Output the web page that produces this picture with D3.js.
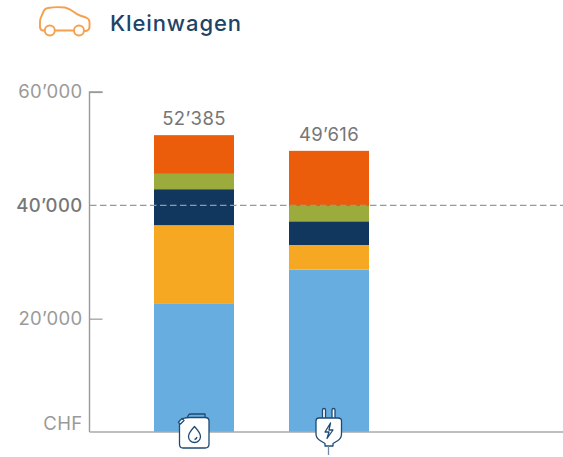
<!DOCTYPE html>
<html><head><meta charset="utf-8">
<script src="https://cdn.jsdelivr.net/npm/d3@7"></script>
<style>html,body{margin:0;padding:0;background:#fff}svg{display:block}text{font-family:Inter,"Noto Sans",sans-serif}</style>
</head><body><div id="c"></div>
<script>
const title = "Kleinwagen";
const categories = ["Benzin", "Elektro"];
const totalLabels = ["52’385", "49’616"];
const segmentNames = ["a", "b", "c", "d", "e"];
const benzinValues = [22600, 13900, 6350, 2700, 6835];
const elektroValues = [28650, 4350, 4180, 2700, 9736];
const colors = ["#68ADE0", "#F7A823", "#12375E", "#9BAB3C", "#EC5D0B"];
const tickValues = [0, 20000, 40000, 60000];
const tickLabels = ["CHF", "20’000", "40’000", "60’000"];

const W = 563, H = 457;
const svg = d3.select("#c").append("svg").attr("width", W).attr("height", H);
const y = d3.scaleLinear().domain([0, 60000]).range([432, 92]);
const x = d3.scaleBand().domain(categories).range([154, 369]).paddingInner(55 / 135).paddingOuter(0);
const seriesRows = [benzinValues, elektroValues];

// stacked bars
const rows = categories.map((c, i) => {
  const o = {cat: c};
  segmentNames.forEach((s, j) => o[s] = seriesRows[i][j]);
  return o;
});
const stack = d3.stack().keys(segmentNames)(rows);
svg.append("g").selectAll("g").data(stack).join("g")
  .attr("fill", (d, i) => colors[i])
  .selectAll("rect").data(d => d).join("rect")
  .attr("x", d => x(d.data.cat))
  .attr("width", x.bandwidth())
  .attr("y", d => y(d[1]))
  .attr("height", d => y(d[0]) - y(d[1]));

// totals
svg.append("g").selectAll("text").data(categories).join("text")
  .attr("x", c => x(c) + x.bandwidth() / 2)
  .attr("y", (c, i) => y(d3.sum(seriesRows[i])) - 10)
  .attr("text-anchor", "middle").attr("font-size", 18.5).attr("letter-spacing", 0.35).attr("fill", "#767676")
  .text((c, i) => totalLabels[i]);

// axis
const axis = d3.axisLeft(y).tickValues(tickValues).tickFormat((d, i) => tickLabels[i]).tickSize(-13).tickPadding(0);
const ga = svg.append("g").attr("transform", "translate(89.5,0)").call(axis);
ga.select(".domain").attr("stroke", "#999").attr("stroke-width", 1.4).attr("d", `M13,${y(60000)}H0V${y(0)}`);
ga.selectAll(".tick line").attr("stroke", "#999").attr("stroke-width", 1.2);
ga.selectAll(".tick").filter(d => d === 0 || d === 40000).select("line").remove();
ga.selectAll(".tick text")
  .attr("x", -7).attr("dy", d => d === 0 ? "-0.15em" : "0.32em")
  .attr("font-size", 18.5).attr("font-family", 'Inter,"Noto Sans",sans-serif')
  .attr("letter-spacing", 0.35)
  .attr("font-weight", d => d === 40000 ? 500 : 400)
  .attr("fill", d => d === 40000 ? "#777" : "#9a9a9a");

// baseline and reference line
svg.append("line").attr("x1", 89.5).attr("x2", 563).attr("y1", y(0)).attr("y2", y(0)).attr("stroke", "#aaa").attr("stroke-width", 1.4);
svg.append("line").attr("x1", 90).attr("x2", 563).attr("y1", y(40000)).attr("y2", y(40000))
  .attr("stroke", "#999").attr("stroke-width", 1.4).attr("stroke-dasharray", "6.5 3.5");

// title
svg.append("text").attr("x", 110).attr("y", 31).attr("font-size", 22).attr("letter-spacing", 0.9).attr("font-weight", 500).attr("fill", "#1D4468").text(title);

// car icon
const car = svg.append("g").attr("fill", "none").attr("stroke", "#F6A04D").attr("stroke-width", 1.9).attr("stroke-linejoin", "round");
car.append("path").attr("d", "M44.5,30.5 H42.5 Q40,29.5 40,27 V22 Q40,19 41.5,16 L44,10.5 Q45,8.5 48,8 Q56,6.5 65,7.5 Q69,8.5 74,12 Q77,14.5 80,15.5 L86,17.5 Q89.5,19 89.5,22 V27 Q89.5,30 86,31 H84.5 M74,30.5 H55");
car.append("circle").attr("cx", 49.8).attr("cy", 30.5).attr("r", 5);
car.append("circle").attr("cx", 79).attr("cy", 30.5).attr("r", 5);

// fuel can icon
const can = svg.append("g").attr("stroke", "#1F4A73").attr("stroke-width", 1.3).attr("stroke-linejoin", "round").attr("fill", "#fff");
can.append("path").attr("fill", "#68ADE0").attr("d", "M187,418 L188.5,415 Q189,414 191,414 H205 V418 Z");
can.append("path").attr("d", "M179.5,423 L183,418.5 Q186,417.5 190,417.5 H205 Q209,417.5 209,421 V444 Q209,448 205,448 H183 Q179.5,448 179.5,444 Z");
can.append("path").attr("d", "M179,423 L178.5,422 L182,418.5 L184,420.5 L180.5,424 Z");
can.append("path").attr("fill", "none").attr("d", "M194.5,426.5 Q200.5,433 200.5,436.5 A6,6 0 0 1 188.5,436.5 Q188.5,433 194.5,426.5 Z");
can.append("path").attr("fill", "none").attr("d", "M197,437 Q196.5,439 194.5,439.5");

// plug icon
const plug = svg.append("g").attr("stroke", "#1F4A73").attr("stroke-width", 1.3).attr("stroke-linejoin", "round").attr("fill", "#fff");
plug.append("path").attr("d", "M322.5,418 V410 Q322.5,408.5 324,408.5 Q325.5,408.5 325.5,410 V418 M332,418 V410 Q332,408.5 333.5,408.5 Q335,408.5 335,410 V418");
plug.append("path").attr("d", "M319,418 H338 Q341.5,418 341.5,421 V434 Q341.5,438 338,440.5 L333,443.5 V446 H325 V443.5 L320,440.5 Q316,438 316,434 V421 Q316,418 319,418 Z");
plug.append("path").attr("fill", "none").attr("d", "M330.5,423 L325,432 H329 L327,438.5 L333,430 H329 Z");
plug.append("path").attr("fill", "none").attr("stroke", "#6E8BA8").attr("d", "M328.5,446 V455");
</script></body></html>
